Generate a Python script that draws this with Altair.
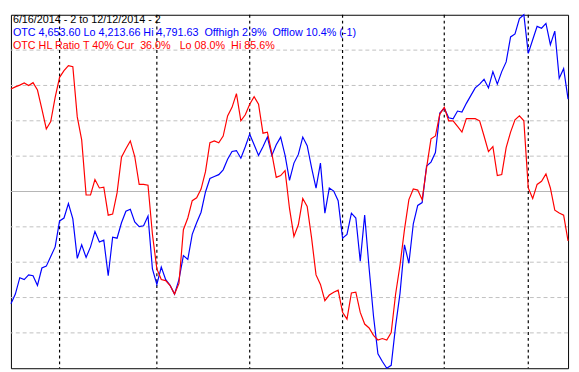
import altair as alt
import pandas as pd

# ---- categories: trading days 6/16/2014 .. 12/12/2014 ----
holidays = ["2014-07-04", "2014-09-01", "2014-11-27"]
dates = [d.strftime("%Y-%m-%d") for d in pd.bdate_range("2014-06-16", "2014-12-12")
         if d.strftime("%Y-%m-%d") not in holidays]
month_starts = ["2014-07-01", "2014-08-01", "2014-09-02", "2014-10-01", "2014-11-03", "2014-12-01"]

# ---- series ----
otc = [4319.2, 4334.9, 4361.7, 4358.6, 4366.4, 4364.9, 4349.1, 4377.5, 4380.6, 4396.3,
       4412.1, 4454.6, 4459.3, 4483.0, 4457.8, 4393.2, 4415.3, 4394.8, 4412.1, 4437.3,
       4420.0, 4423.1, 4364.9, 4427.8, 4426.3, 4451.5, 4470.4, 4473.5, 4453.0, 4445.2,
       4446.7, 4462.5, 4375.9, 4350.7, 4379.0, 4358.6, 4349.1, 4334.9, 4358.6, 4397.9,
       4391.6, 4432.6, 4451.5, 4468.8, 4501.9, 4523.9, 4527.1, 4530.2, 4538.1, 4555.4,
       4568.0, 4569.6, 4557.0, 4575.9, 4596.4, 4579.0, 4561.7, 4575.9, 4591.6, 4561.7,
       4579.0, 4591.6, 4561.7, 4520.8, 4549.1, 4563.3, 4591.6, 4577.5, 4541.3, 4508.2,
       4549.1, 4467.2, 4508.2, 4503.4, 4487.7, 4426.3, 4432.6, 4467.2, 4459.3, 4388.5,
       4464.1, 4377.5, 4298.7, 4237.3, 4224.7, 4213.66, 4218.4, 4283.0, 4336.5, 4415.3,
       4385.3, 4449.9, 4479.8, 4484.6, 4544.4, 4550.7, 4566.4, 4631.0, 4638.9, 4623.1,
       4621.6, 4634.2, 4632.6, 4646.8, 4659.4, 4672.0, 4678.3, 4686.1, 4672.0, 4698.7,
       4678.3, 4698.7, 4714.5, 4755.4, 4760.2, 4785.4, 4791.63, 4728.6, 4750.7, 4772.7,
       4769.6, 4777.5, 4742.8, 4764.9, 4687.7, 4703.5, 4653.6]

hl_ratio = [79.0, 79.6, 80.1, 80.7, 80.0, 80.8, 78.7, 73.3, 67.7, 69.8,
            76.6, 82.3, 84.2, 85.6, 85.3, 71.1, 64.6, 49.0, 49.0, 53.4,
            51.0, 51.2, 43.3, 43.6, 49.6, 59.7, 62.1, 64.3, 59.9, 52.0,
            52.0, 51.8, 37.9, 28.1, 25.1, 24.8, 23.4, 21.0, 24.0, 39.2,
            42.5, 47.4, 48.2, 50.7, 55.6, 63.8, 64.3, 63.8, 65.7, 71.4,
            73.8, 77.7, 70.0, 71.7, 74.7, 76.8, 74.7, 66.5, 66.8, 60.8,
            54.0, 54.5, 55.9, 45.2, 37.3, 40.6, 48.0, 45.8, 36.8, 26.4,
            23.7, 19.1, 20.7, 21.5, 22.1, 15.8, 13.9, 21.3, 21.5, 15.8,
            12.5, 11.4, 9.3, 8.0, 8.4, 8.0, 10.1, 21.0, 29.2, 39.2,
            47.7, 50.7, 50.4, 47.7, 56.7, 64.9, 65.7, 71.9, 73.8, 70.0,
            70.0, 68.4, 66.8, 70.6, 70.6, 70.6, 70.0, 65.7, 61.3, 62.7,
            54.5, 54.8, 62.4, 66.8, 70.3, 71.4, 70.0, 51.0, 48.0, 52.0,
            52.9, 55.0, 51.0, 44.7, 43.9, 43.3, 36.0]

otc_lo, otc_hi = 4213.66, 4791.63
grid_levels = [10, 20, 30, 40, 60, 70, 80, 90]
mid_level = [50]

header_lines = [
    "6/16/2014 - 2 to 12/12/2014 - 2",
    "OTC 4,653.60 Lo 4,213.66 Hi 4,791.63\u00a0\u00a0Offhigh 2.9%\u00a0\u00a0Offlow 10.4% (-1)",
    "OTC HL Ratio T 40% Cur\u00a0\u00a036.0%\u00a0\u00a0\u00a0Lo 08.0%\u00a0\u00a0Hi 85.6%",
]
header_colors = ["#000000", "#0000ff", "#ff0000"]

W, H = 569, 361

df = pd.DataFrame({"date": dates, "otc": otc, "ratio": hl_ratio})
grid_df = pd.DataFrame({"level": grid_levels})
mid_df = pd.DataFrame({"level": mid_level})
month_df = pd.DataFrame({"date": month_starts})
text_df = pd.DataFrame({"label": header_lines, "color": header_colors,
                        "ypix": [5, 19, 32]})

xscale = alt.Scale(type="point", domain=dates, padding=0)
pct_scale = alt.Scale(domain=[0, 100], nice=False, zero=False)

grid = alt.Chart(grid_df).mark_rule(color="#c0c0c0", strokeDash=[4, 3], strokeWidth=1).encode(
    y=alt.Y("level:Q", scale=pct_scale, axis=None))
mid = alt.Chart(mid_df).mark_rule(color="#b4b4b4", strokeWidth=1).encode(
    y=alt.Y("level:Q", scale=pct_scale, axis=None))
vlines = alt.Chart(month_df).mark_rule(color="#000000", strokeDash=[3, 3], strokeWidth=1.2).encode(
    x=alt.X("date:O", scale=xscale, axis=None))

blue = alt.Chart(df).mark_line(color="#0000ff", strokeWidth=1.2).encode(
    x=alt.X("date:O", scale=xscale, axis=None),
    y=alt.Y("otc:Q", scale=alt.Scale(domain=[otc_lo, otc_hi], nice=False, zero=False), axis=None))
red = alt.Chart(df).mark_line(color="#ff0000", strokeWidth=1.2).encode(
    x=alt.X("date:O", scale=xscale, axis=None),
    y=alt.Y("ratio:Q", scale=pct_scale, axis=None))

texts = alt.Chart(text_df).mark_text(align="left", baseline="middle", font="Liberation Sans",
                                     fontSize=11).encode(
    x=alt.value(2),
    y=alt.Y("ypix:Q", scale=None),
    text="label:N",
    color=alt.Color("color:N", scale=None))

chart = alt.layer(grid, mid, vlines, blue, red, texts).resolve_scale(y="independent").properties(
    width=W, height=H, padding=0, background="white"
).configure_view(stroke="#000000", strokeWidth=1)

chart.save("out.html", embed_options={"renderer": "svg", "actions": False})
